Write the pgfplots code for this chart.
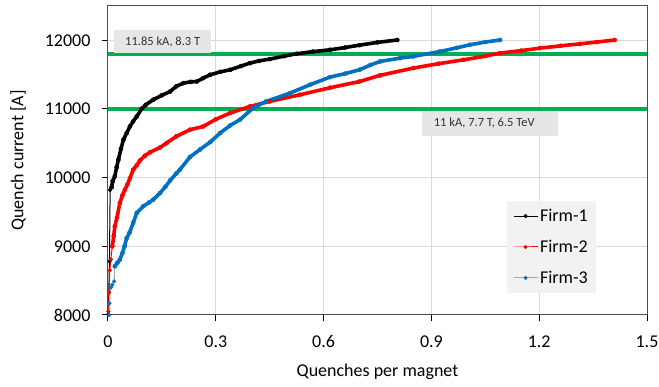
\documentclass[border=0pt]{standalone}
\usepackage{fontspec}
\setmainfont{Carlito}
\usepackage{pgfplots}
\usepackage{pgfplotstable}
\pgfplotsset{compat=1.18}
\definecolor{xgreen}{HTML}{00B050}
\definecolor{xblue}{HTML}{0070C0}
\definecolor{xred}{HTML}{FF0000}
\definecolor{xgrid}{HTML}{D9D9D9}
\definecolor{xbox}{HTML}{E6E6E6}
\definecolor{xleg}{HTML}{F2F2F2}

\pgfplotstableread{
x y
0.001 8010
0.004 8780
0.006 9820
0.010 9860
}\firmAlow
\pgfplotstableread{
x y
0.010 9860
0.013 9950
0.019 10020
0.024 10150
0.029 10262
0.036 10420
0.043 10553
0.052 10650
0.061 10746
0.070 10820
0.080 10891
0.094 11004
0.105 11060
0.126 11135
0.150 11200
0.173 11255
0.190 11330
0.210 11377
0.230 11395
0.247 11400
0.265 11450
0.284 11498
0.312 11540
0.340 11571
0.370 11625
0.395 11668
0.420 11700
0.450 11727
0.490 11770
0.525 11804
0.570 11835
0.618 11862
0.660 11895
0.700 11930
0.750 11970
0.805 12005
}\firmAhigh
\pgfplotstableread{
x y
0.001 8050
0.003 8330
0.005 8650
0.008 8810
0.012 9000
}\firmBlow
\pgfplotstableread{
x y
0.012 9000
0.016 9150
0.019 9291
0.025 9420
0.033 9632
0.040 9740
0.047 9825
0.054 9900
0.061 9990
0.070 10116
0.080 10180
0.089 10250
0.103 10320
0.117 10370
0.145 10440
0.163 10504
0.190 10601
0.228 10698
0.265 10746
0.300 10850
0.340 10941
0.395 11037
0.450 11110
0.534 11207
0.618 11310
0.700 11400
0.757 11490
0.850 11596
0.920 11660
0.989 11716
1.050 11770
1.091 11814
1.150 11850
1.202 11886
1.260 11920
1.314 11949
1.360 11975
1.410 12005
}\firmBhigh
\pgfplotstableread{
x y
0.003 8000
0.004 8170
0.008 8400
0.012 8440
0.017 8490
0.019 8710
}\firmClow
\pgfplotstableread{
x y
0.019 8710
0.026 8760
0.033 8807
0.040 8900
0.046 9000
0.052 9120
0.060 9200
0.070 9340
0.080 9486
0.098 9583
0.115 9640
0.126 9680
0.145 9777
0.160 9870
0.173 9960
0.190 10060
0.200 10116
0.228 10300
0.256 10410
0.285 10520
0.312 10650
0.340 10760
0.367 10844
0.404 11014
0.440 11110
0.507 11232
0.562 11353
0.618 11465
0.660 11515
0.700 11571
0.730 11640
0.757 11692
0.813 11741
0.849 11765
0.924 11837
0.970 11890
1.007 11935
1.050 11975
1.091 12005
}\firmChigh

\begin{document}
\begin{tikzpicture}
\begin{axis}[name=ax, scale only axis, width=539pt, height=309pt,
  xmin=0, xmax=1.5, ymin=8000, ymax=12500,
  scaled x ticks=false, scaled y ticks=false,
  xtick={0,0.3,0.6,0.9,1.2,1.5}, xticklabels={0,0.3,0.6,0.9,1.2,1.5},
  ytick={8000,9000,10000,11000,12000}, yticklabels={8000,9000,10000,11000,12000},
  grid=major, major grid style={xgrid, line width=1pt},
  axis line style={black!70, line width=1pt},
  tick align=outside, xtick pos=bottom, ytick pos=left,
  major tick length=6pt, tick style={black, line width=1pt},
  ticklabel style={font=\fontsize{18}{21}\selectfont},
  xticklabel style={yshift=-11pt},
  yticklabel style={xshift=-8pt},
  label style={font=\fontsize{18}{21}\selectfont},
  xlabel={Quenches per magnet}, ylabel={Quench current [A]},
  xlabel style={at={(axis description cs:0.5,-0.185)}, anchor=center},
  ylabel style={at={(axis description cs:-0.167,0.5)}, anchor=center},
  clip=false,
  legend style={at={(axis description cs:0.740,0.369)}, anchor=north west,
    fill=xleg, draw=none, font=\fontsize{18}{21}\selectfont,
    row sep=13pt, inner xsep=6pt, inner ysep=6pt,
    /tikz/every even column/.append style={column sep=3pt}},
  legend cell align=left,
  legend image code/.code={\draw[mark repeat=2,mark phase=2,#1] plot coordinates {(0pt,0pt) (12pt,0pt) (24pt,0pt)};},
]
\addplot[xgreen, line width=3.2pt, forget plot] coordinates {(0,11800) (1.5,11800)};
\addplot[xgreen, line width=3.2pt, forget plot] coordinates {(0,11000) (1.5,11000)};

\addplot[black, line width=1pt, mark=*, mark size=1.9pt, mark options={solid, fill=black, line width=0.4pt}] table {\firmAlow};
\addlegendentry{Firm-1}
\addplot[black, line width=3.6pt, mark=*, mark size=2.1pt, mark options={line width=0.4pt}, forget plot] table {\firmAhigh};

\addplot[xred, line width=1pt, mark=*, mark size=1.9pt, mark options={solid, fill=xred, line width=0.4pt}] table {\firmBlow};
\addlegendentry{Firm-2}
\addplot[xred, line width=3.6pt, mark=*, mark size=2.1pt, mark options={line width=0.4pt}, forget plot] table {\firmBhigh};

\addplot[black!35, line width=1pt, mark=*, mark size=1.9pt, mark options={solid, fill=xblue, draw=xblue, line width=0.4pt}] table {\firmClow};
\addlegendentry{Firm-3}
\addplot[xblue, line width=3.6pt, mark=*, mark size=2.1pt, mark options={line width=0.4pt}, forget plot] table {\firmChigh};

\node[fill=xbox, anchor=north west, minimum width=97pt, minimum height=23pt, inner sep=0pt,
  font=\fontsize{12.5}{14}\selectfont, text=black!80] at (axis cs:0.0167,12153) {11.85 kA, 8.3 T};
\node[fill=xbox, anchor=north west, minimum width=136pt, minimum height=25pt, inner sep=0pt,
  font=\fontsize{12.5}{14}\selectfont, text=black!80] at (axis cs:0.874,10975) {11 kA, 7.7 T, 6.5 TeV\hspace*{12pt}};
\end{axis}
\pgfresetboundingbox
\path (ax.south west) ++(-108pt,-72pt) rectangle ([shift={(12pt,6pt)}]ax.north east);
\end{tikzpicture}
\end{document}
